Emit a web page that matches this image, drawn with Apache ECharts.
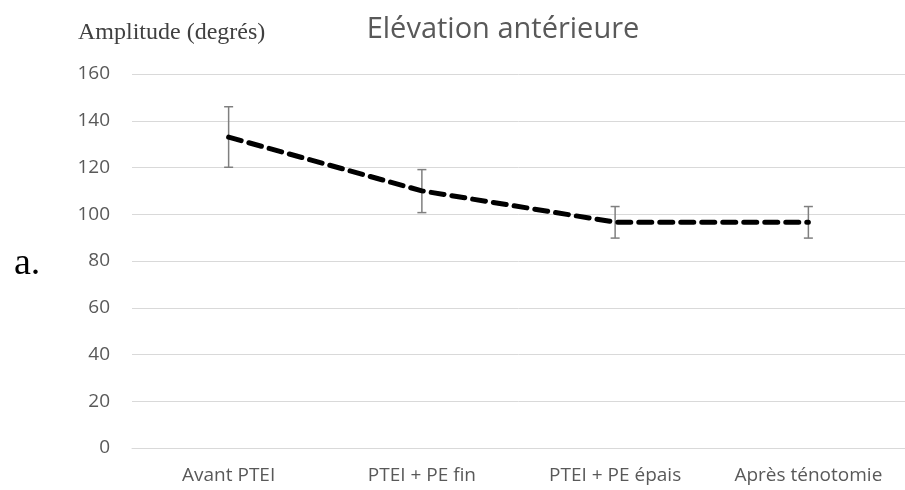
<!DOCTYPE html>
<html>
<head>
<meta charset="utf-8">
<script src="https://cdn.jsdelivr.net/npm/echarts@6/dist/echarts.min.js"></script>
<style>html,body{margin:0;padding:0;background:#fff}#c{width:905px;height:490px}</style>
</head>
<body>
<div id="c"></div>
<script>
const categories = ['Avant PTEI', 'PTEI + PE fin', 'PTEI + PE épais', 'Après ténotomie'];
const means = [133, 110, 96.6, 96.6];
const upper = [146, 119.1, 103.3, 103.3];
const lower = [120.1, 100.7, 89.8, 89.8];
const yTicks = [0, 20, 40, 60, 80, 100, 120, 140, 160];

const errData = categories.map((c, i) => [i, lower[i], upper[i]]);

const chart = echarts.init(document.getElementById('c'), null, {renderer: 'canvas'});
chart.setOption({
  animation: false,
  backgroundColor: '#ffffff',
  title: [
    {text: 'Elévation antérieure', left: 498, top: 10, textAlign: 'center',
     textStyle: {fontFamily: 'Open Sans', fontSize: 29, fontWeight: 'normal', color: '#595959'}},
    {text: 'Amplitude (degrés)', left: 73, top: 16,
     textStyle: {fontFamily: 'Liberation Serif', fontSize: 24, fontWeight: 'normal', color: '#404040'}},
    {text: 'a.', left: 9, top: 240,
     textStyle: {fontFamily: 'Liberation Serif', fontSize: 38, fontWeight: 'normal', color: '#000000'}}
  ],
  grid: {left: 132, right: 0, top: 74, bottom: 42, containLabel: false},
  xAxis: {
    type: 'category', data: categories, boundaryGap: true,
    axisLine: {show: true, lineStyle: {color: '#d9d9d9', width: 1}},
    axisTick: {show: false},
    axisLabel: {fontFamily: 'Open Sans', fontSize: 19, color: '#595959', margin: 18}
  },
  yAxis: {
    type: 'value', min: yTicks[0], max: yTicks[yTicks.length - 1], interval: 20,
    axisLine: {show: false}, axisTick: {show: false},
    splitLine: {lineStyle: {color: '#d9d9d9', width: 1}},
    axisLabel: {fontFamily: 'Open Sans', fontSize: 19, color: '#595959', margin: 22}
  },
  series: [
    {
      type: 'line', data: means, symbol: 'none',
      lineStyle: {color: '#000000', width: 5, type: [13, 8], cap: 'round'},
      z: 3
    },
    {
      type: 'custom', data: errData, z: 2,
      renderItem: function (params, api) {
        const x = api.value(0);
        const lo = api.coord([x, api.value(1)]);
        const hi = api.coord([x, api.value(2)]);
        const w = 4.5;
        const style = {stroke: '#7f7f7f', lineWidth: 1.5};
        return {type: 'group', children: [
          {type: 'line', shape: {x1: hi[0], y1: hi[1], x2: lo[0], y2: lo[1]}, style: style},
          {type: 'line', shape: {x1: hi[0] - w, y1: hi[1], x2: hi[0] + w, y2: hi[1]}, style: style},
          {type: 'line', shape: {x1: lo[0] - w, y1: lo[1], x2: lo[0] + w, y2: lo[1]}, style: style}
        ]};
      }
    }
  ]
});
</script>
</body>
</html>
